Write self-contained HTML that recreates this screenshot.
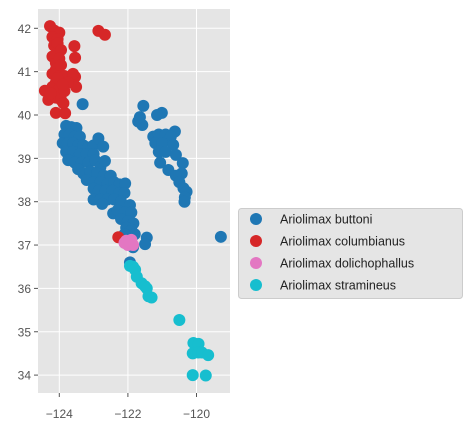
<!DOCTYPE html>
<html><head><meta charset="utf-8"><style>
body{margin:0;background:#fff;}
svg{display:block;font-family:"Liberation Sans","DejaVu Sans",sans-serif;}
</style></head><body>
<svg id="chart" width="467" height="428">
<rect x="38" y="9" width="192" height="384" fill="#e5e5e5"/>
<g id="grid"></g><g id="ticks"></g><g id="marks"></g>
<g id="legend">
<rect x="238.5" y="208.5" width="224" height="90" rx="3" fill="#e5e5e5" stroke="#cccccc"/>
</g>
</svg>
<script>
const species = ["Ariolimax buttoni","Ariolimax columbianus","Ariolimax dolichophallus","Ariolimax stramineus"];
const colors = ["#1f77b4","#d62728","#e377c2","#17becf"];
const xTicks = [-124,-122,-120];
const yTicks = [34,35,36,37,38,39,40,41,42];
const buttoni = [[-123.8,39.75],[-123.65,39.72],[-123.5,39.7],[-123.85,39.55],[-123.7,39.55],[-123.55,39.5],[-123.4,39.5],[-123.9,39.35],[-123.75,39.35],[-123.6,39.35],[-123.45,39.3],[-123.3,39.3],[-123.15,39.25],[-123.0,39.3],[-122.86,39.46],[-122.72,39.27],[-123.8,39.15],[-123.6,39.15],[-123.4,39.1],[-123.2,39.1],[-123.0,39.1],[-123.74,38.96],[-123.55,38.9],[-123.35,38.9],[-123.15,38.9],[-122.95,38.95],[-122.8,38.8],[-122.67,38.94],[-123.45,38.75],[-123.3,38.65],[-123.1,38.7],[-122.9,38.65],[-122.7,38.6],[-122.5,38.6],[-123.2,38.5],[-123.0,38.45],[-122.8,38.45],[-122.6,38.4],[-122.4,38.45],[-122.25,38.4],[-122.08,38.42],[-123.0,38.3],[-122.85,38.25],[-122.65,38.25],[-122.45,38.25],[-122.25,38.2],[-122.1,38.2],[-123.0,38.05],[-122.8,38.05],[-122.6,38.05],[-122.4,38.05],[-122.2,38.0],[-121.94,37.92],[-122.75,37.95],[-122.43,37.73],[-122.3,37.8],[-122.1,37.75],[-121.9,37.75],[-122.2,37.6],[-122.0,37.55],[-121.84,37.5],[-122.05,37.4],[-121.9,37.35],[-121.94,37.31],[-121.8,37.25],[-122.1,37.25],[-121.45,37.17],[-121.5,37.02],[-121.85,36.95],[-119.29,37.19],[-121.94,36.6],[-123.32,40.25],
[-121.55,40.21],[-121.01,40.05],[-121.15,40.0],[-121.7,39.85],[-121.58,39.77],[-121.65,39.95],[-121.26,39.5],[-121.1,39.55],[-120.9,39.55],[-120.63,39.62],[-120.75,39.5],[-121.2,39.35],[-121.0,39.35],[-120.68,39.31],[-121.1,39.15],[-120.9,39.15],[-121.06,38.9],[-120.6,39.08],[-120.4,38.89],[-120.82,38.73],[-120.43,38.65],[-120.6,38.6],[-120.5,38.45],[-120.38,38.31],[-120.29,38.23],[-120.34,38.1],[-120.35,38.0]];
const columbianus = [[-124.27,42.05],[-124.15,41.95],[-124.0,41.9],[-124.2,41.8],[-124.05,41.75],[-124.15,41.6],[-124.05,41.45],[-124.2,41.35],[-124.1,41.2],[-124.1,41.05],[-124.2,40.95],[-124.0,40.9],[-123.85,40.9],[-124.1,40.75],[-124.2,40.65],[-124.0,40.6],[-123.85,40.55],[-124.42,40.56],[-124.32,40.35],[-124.1,40.4],[-123.95,40.35],[-123.88,40.27],[-124.1,40.05],[-123.83,40.04],[-122.86,41.94],[-122.67,41.85],[-123.56,41.59],[-123.54,41.32],[-123.54,40.88],[-123.6,40.95],[-123.51,40.65],[-122.28,37.18],
[-124.05,41.65],[-123.95,41.5],[-124.0,41.3],[-123.95,41.15],[-124.05,40.85],[-123.75,40.75],[-123.9,40.7],[-124.25,40.5]];
const dolichophallus = [[-122.05,37.1],[-121.95,37.05],[-121.9,37.12],[-122.0,37.0],[-121.85,37.0],[-122.1,37.05]];
const stramineus = [[-121.94,36.52],[-121.85,36.5],[-121.79,36.43],[-121.74,36.27],[-121.6,36.12],[-121.5,36.05],[-121.45,36.0],[-121.4,35.82],[-121.31,35.79],[-120.5,35.27],[-120.09,34.74],[-119.94,34.72],[-120.11,34.5],[-119.95,34.52],[-119.84,34.52],[-119.66,34.46],[-120.11,34.0],[-119.73,33.99]];
const series = [buttoni, columbianus, dolichophallus, stramineus];

const NS="http://www.w3.org/2000/svg";
function X(lon){return 59.3+(lon+124)*34.3;}
function Y(lat){return 28.3+(42-lat)*43.35;}
function mk(tag,attrs,parent){const e=document.createElementNS(NS,tag);for(const k in attrs)e.setAttribute(k,attrs[k]);parent.appendChild(e);return e;}
const grid=document.getElementById('grid'),ticks=document.getElementById('ticks'),marks=document.getElementById('marks'),legend=document.getElementById('legend');
xTicks.forEach(v=>{
  const l=mk('line',{x1:X(v),x2:X(v),y1:9,y2:393,stroke:'#fff','stroke-width':1},grid);
  
  
  mk('line',{x1:X(v),x2:X(v),y1:393,y2:397,stroke:'#555'},ticks);
  const t=mk('text',{x:X(v),y:418,'text-anchor':'middle','font-size':12,fill:'#555'},ticks);
  t.textContent='\u2212'+Math.abs(v);
  
  
});
yTicks.forEach(v=>{
  const l=mk('line',{x1:38,x2:230,y1:Y(v),y2:Y(v),stroke:'#fff','stroke-width':1},grid);
  
  
  mk('line',{x1:34,x2:38,y1:Y(v),y2:Y(v),stroke:'#555'},ticks);
  const t=mk('text',{x:31,y:Y(v)+4.5,'text-anchor':'end','font-size':12,fill:'#555'},ticks);
  t.textContent=v;
  
  
});
series.forEach((pts,i)=>{
  pts.forEach(p=>{
    const c=mk('circle',{cx:X(p[0]),cy:Y(p[1]),r:6,fill:colors[i]},marks);
    
    
  });
  const ly=219+i*22;
  const c=mk('circle',{cx:256,cy:ly,r:6,fill:colors[i]},legend);
  
  
  const t=mk('text',{x:280,y:ly+4.5,'font-size':12.5,fill:'#222'},legend);
  t.textContent=species[i];
  
  
});
</script>
</body></html>
